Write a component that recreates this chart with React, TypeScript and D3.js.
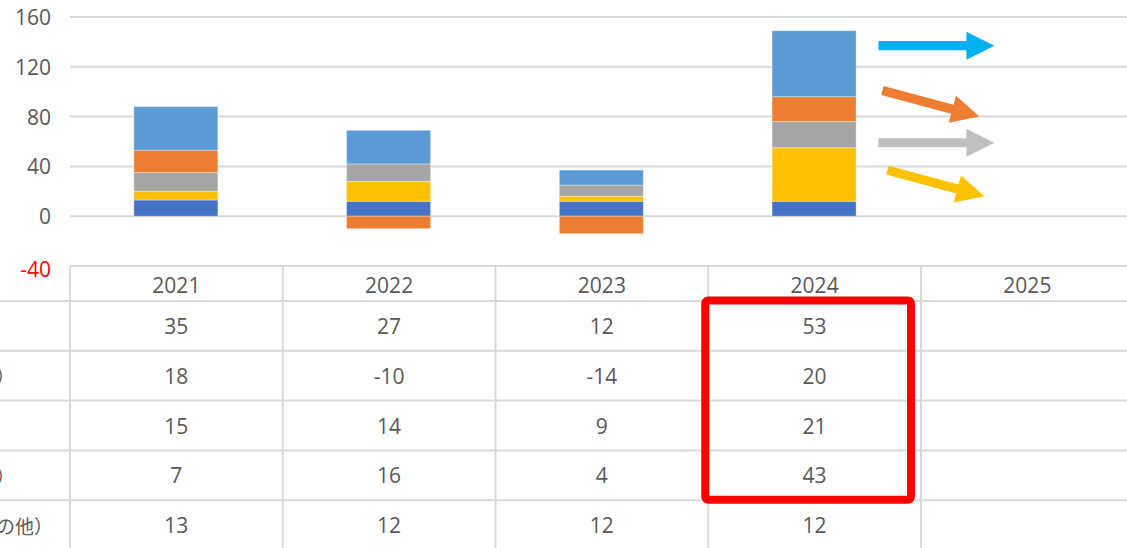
import React, { useEffect } from "react";
import * as d3 from "d3";

// table / chart data
const years = ["2021", "2022", "2023", "2024", "2025"];
const rowLabels = ["民間消費", "設備投資（民）", "公共投資", "在庫投資（民）", "政府支出（その他）"];
const seriesA = [35, 27, 12, 53]; // light blue, top
const seriesB = [18, -10, -14, 20]; // orange
const seriesC = [15, 14, 9, 21]; // gray
const seriesD = [7, 16, 4, 43]; // yellow
const seriesE = [13, 12, 12, 12]; // dark blue, bottom
const yTicks = [-40, 0, 40, 80, 120, 160];

const W = 1127;
const H = 548;
const font = "'Open Sans', 'Noto Sans CJK JP', sans-serif";
const textColor = "#595959";
const gridColor = "#D9D9D9";

const keys = ["E", "D", "C", "B", "A"];
const colors: Record<string, string> = {
  A: "#5B9BD5",
  B: "#ED7D31",
  C: "#A5A5A5",
  D: "#FFC000",
  E: "#4472C4",
};
const tableRows = [seriesA, seriesB, seriesC, seriesD, seriesE];

const rows = years.slice(0, 4).map((year, i) => ({
  year,
  A: seriesA[i],
  B: seriesB[i],
  C: seriesC[i],
  D: seriesD[i],
  E: seriesE[i],
}));

// trend arrows next to 2024 (value at start, value at tip)
const arrows = [
  { color: "#00B0F0", from: 137, to: 137, dx0: 0, dx1: 0 },
  { color: "#ED7D31", from: 101, to: 80, dx0: 4, dx1: -15 },
  { color: "#BFBFBF", from: 59, to: 59, dx0: 0, dx1: 0 },
  { color: "#FFC000", from: 37, to: 16, dx0: 9, dx1: -10 },
];

function arrowPath(x0: number, y0: number, x1: number, y1: number) {
  const len = Math.hypot(x1 - x0, y1 - y0);
  const ux = (x1 - x0) / len;
  const uy = (y1 - y0) / len;
  const nx = -uy;
  const ny = ux;
  const h = 4.6; // half shaft
  const hw = 14; // half head
  const hl = 28; // head length
  const bx = x1 - ux * hl;
  const by = y1 - uy * hl;
  const pts = [
    [x0 + nx * h, y0 + ny * h],
    [bx + nx * h, by + ny * h],
    [bx + nx * hw, by + ny * hw],
    [x1, y1],
    [bx - nx * hw, by - ny * hw],
    [bx - nx * h, by - ny * h],
    [x0 - nx * h, y0 - ny * h],
  ];
  return "M" + pts.map((p) => p.join(",")).join("L") + "Z";
}

export default function App() {
  useEffect(() => {
    document.body.style.margin = "0";
  }, []);

  const x = d3.scaleBand<string>().domain(years).range([70, 70 + 212.75 * 5]).padding(0);
  const bw = x.bandwidth();
  const y = d3.scaleLinear().domain([-40, 160]).range([266, 17]);
  const rowY = d3
    .scaleBand<number>()
    .domain(d3.range(rowLabels.length))
    .range([301, 301 + 49.8 * 5])
    .padding(0);
  const rh = rowY.bandwidth();

  const stack = d3.stack<any>().keys(keys).offset(d3.stackOffsetDiverging);
  const layers = stack(rows);

  const x24 = x("2024") as number;

  return (
    <svg width={W} height={H} style={{ position: "absolute", left: 0, top: 0, background: "#fff" }} fontFamily={font}>
      {/* gridlines */}
      {yTicks.map((t) => (
        <line key={t} x1={70} x2={W} y1={y(t)} y2={y(t)} stroke={gridColor} strokeWidth={2} />
      ))}
      {/* y labels */}
      {yTicks.map((t) => (
        <text
          key={"l" + t}
          x={51}
          y={y(t) + (t === -40 ? 3 : 0)}
          textAnchor="end"
          dominantBaseline="central"
          fontSize={21}
          fill={t < 0 ? "#FF0000" : textColor}
        >
          {t}
        </text>
      ))}
      {/* bars */}
      {layers.map((layer) => (
        <g key={layer.key} fill={colors[layer.key]}>
          {layer.map((d, i) => (
            <rect
              key={i}
              x={(x(d.data.year) as number) + bw * 0.3}
              width={bw * 0.395}
              y={y(Math.max(d[0], d[1]))}
              height={Math.abs(y(d[0]) - y(d[1]))}
              stroke="#ffffff"
              strokeOpacity={0.35}
              strokeWidth={1}
            />
          ))}
        </g>
      ))}
      {/* arrows */}
      {arrows.map((a, i) => (
        <path
          key={i}
          d={arrowPath(x24 + bw * 0.8 + a.dx0, y(a.from), x24 + bw * 1.345 + a.dx1, y(a.to))}
          fill={a.color}
        />
      ))}
      {/* data table */}
      <g>
        {years.map((yr) => (
          <line
            key={"v" + yr}
            x1={x(yr) as number}
            x2={x(yr) as number}
            y1={y(-40)}
            y2={H}
            stroke={gridColor}
            strokeWidth={2}
          />
        ))}
        {rowLabels.map((_, i) => (
          <line key={"h" + i} x1={0} x2={W} y1={rowY(i)} y2={rowY(i)} stroke={gridColor} strokeWidth={2} />
        ))}
        {years.map((yr) => (
          <text
            key={"t" + yr}
            x={(x(yr) as number) + bw / 2}
            y={(y(-40) + (rowY(0) as number)) / 2 + 1}
            textAnchor="middle"
            dominantBaseline="central"
            fontSize={21}
            fill={textColor}
          >
            {yr}
          </text>
        ))}
        {rowLabels.map((lab, i) => (
          <text
            key={"r" + i}
            x={-118}
            y={(rowY(i) as number) + rh / 2}
            dominantBaseline="central"
            fontSize={19}
            fontFamily="'Noto Sans CJK JP', sans-serif"
            fill={textColor}
          >
            {lab}
          </text>
        ))}
        {tableRows.map((vals, i) =>
          vals.map((v, j) => (
            <text
              key={i + "-" + j}
              x={(x(years[j]) as number) + bw / 2}
              y={(rowY(i) as number) + rh / 2}
              textAnchor="middle"
              dominantBaseline="central"
              fontSize={21}
              fill={textColor}
            >
              {v}
            </text>
          ))
        )}
      </g>
      {/* highlight for 2024 */}
      <rect
        x={x24 - 3}
        y={(rowY(0) as number) - 0.5}
        width={bw - 7}
        height={rh * 4}
        rx={3}
        fill="none"
        stroke="#FF0000"
        strokeWidth={8}
      />
    </svg>
  );
}
